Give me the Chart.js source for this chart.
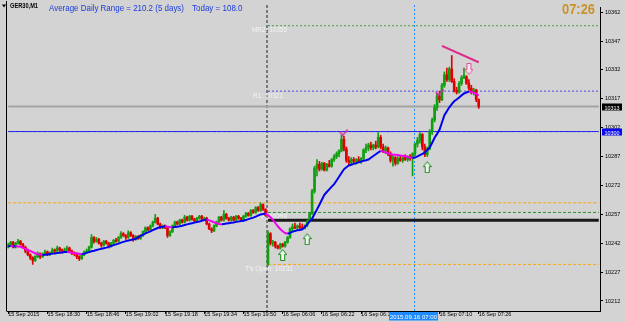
<!DOCTYPE html>
<html>
<head>
<meta charset="utf-8">
<title>GER30,M1</title>
<script src="https://cdn.jsdelivr.net/npm/chart.js@4.4.1/dist/chart.umd.min.js"></script>
<style>
  html, body { margin: 0; padding: 0; background: #d3d3d3; overflow: hidden; }
  canvas { display: block; }
</style>
</head>
<body>
<canvas id="chart" width="625" height="322"></canvas>
<script>
// GER30 M1 candles, 15 Sep 18:14 - 19:59 and 16 Sep 06:00 - 07:26

// OHLC per minute bar (index 0..105 = 15 Sep, 106..192 = 16 Sep)
const opens = [
  10240,10241,10242.5,10240,10242,10243,10241.5,10240,10238,10236,
  10234.5,10233,10235,10236.5,10235,10236.5,10237.5,10236.5,10237,10238.5,
  10238,10239.5,10238.5,10238,10238.5,10239.5,10238,10237,10236.5,10235,
  10234,10236,10237.5,10238,10240,10245,10243,10244,10242,10241,
  10243,10242,10240.5,10242,10243.5,10243,10245,10247,10246,10245,
  10247.5,10246,10244,10245.5,10244.5,10246,10248,10250,10249,10251,
  10253,10255,10252,10250,10251,10250,10246,10248,10251,10253,
  10252,10254,10253,10255.5,10254,10256,10254.5,10253.5,10255,10256,
  10254.5,10255,10252,10249.5,10248.5,10251,10253,10255.5,10254,10257,
  10255,10254,10255.5,10254,10256,10255,10254,10256,10257.5,10256.5,
  10259,10258,10260.5,10259,10262,10259.5,
  10231,10247,10242,10242.5,10240.5,10239.5,10241.5,10240.5,10242.5,10245,
  10249.5,10250.5,10250,10251,10250,10249.5,10251,10253.5,10257.5,10269,
  10281,10283,10280.5,10283.5,10280,10283,10282,10285.5,10287,10288.5,
  10290,10296,10291,10285,10284,10285.5,10284.5,10285.5,10284.5,10286,
  10290.5,10291.5,10293,10291.5,10293,10292,10297,10292,10290,10291.5,
  10288.5,10285,10286.5,10283.5,10286,10285,10286.5,10285.5,10287,10286,
  10288.5,10293.5,10295.5,10298.5,10292,10288,10291,10300,10306,10312.5,
  10318.5,10316.5,10324,10329.5,10327,10332.5,10326,10321.5,10320.5,10325,
  10328,10328.5,10325,10322.5,10320.5,10321.5,10316.5
];
const highs = [
  10242,10243,10243,10242.5,10244,10243.5,10242,10240.5,10239,10236.5,
  10235,10235.5,10237.5,10237,10237,10238.5,10238,10237.5,10239.5,10239,
  10240.5,10240,10239,10239.5,10240.5,10240,10238.5,10237.5,10237,10235.5,
  10236.5,10238,10239,10240.5,10246.5,10245.5,10245,10244.5,10242.5,10243.5,
  10243.5,10242.5,10242.5,10244,10244.5,10245.5,10248,10247.5,10246.5,10248.5,
  10248,10246.5,10246,10246,10246.5,10248.5,10250.5,10250.5,10251.5,10253.5,
  10257,10255.5,10252.5,10251.5,10251.5,10250.5,10248.5,10251.5,10253.5,10253.5,
  10254.5,10254.5,10256.5,10256,10256.5,10256.5,10255,10255.5,10256.5,10256.5,
  10255.5,10255.5,10252.5,10250,10251.5,10253.5,10256,10256,10259,10257.5,
  10255.5,10256,10256,10256.5,10256.5,10255.5,10256.5,10258,10258,10259.5,
  10259.5,10261,10261,10263,10262.5,10260,
  10248.5,10247.5,10243.5,10243,10241,10242,10242,10243,10245.5,10250,
  10252,10252.5,10251.5,10252.5,10252,10251.5,10254,10258,10270,10282,
  10285.5,10284.5,10284,10284,10283.5,10285,10286,10288,10289.5,10290.5,
  10298,10297.5,10292,10287,10286.5,10286.5,10286,10287,10286.5,10291,
  10293.5,10294,10294.5,10293.5,10295,10299.5,10298,10293.5,10292.5,10292,
  10289.5,10287.5,10287,10287,10287.5,10287,10288,10287.5,10288,10289,
  10294,10297,10299.5,10299,10293.5,10292,10301,10307,10314,10320,
  10321,10325,10331,10333,10333.5,10339.5,10327.5,10323,10326,10329,
  10333,10329,10327,10324,10322.5,10322,10317
];
const lows = [
  10239.5,10240.5,10239.5,10239.5,10241.5,10241,10239.5,10237,10235.5,10233.5,
  10231,10232.5,10234.5,10234,10234.5,10236,10235.5,10235.5,10236.5,10237,
  10237.5,10237.5,10237,10237.5,10238,10237.5,10236,10235.5,10234,10233,
  10233.5,10235.5,10237,10237.5,10239.5,10242,10242.5,10241.5,10240,10240.5,
  10241.5,10239.5,10240,10241.5,10242.5,10242.5,10244.5,10245.5,10244,10244.5,
  10245.5,10243,10243.5,10244,10244,10245.5,10247.5,10248.5,10248.5,10250.5,
  10252.5,10251.5,10249.5,10249.5,10249.5,10245,10245.5,10247.5,10250.5,10251.5,
  10251.5,10252.5,10252.5,10253.5,10253.5,10254,10253,10253,10254.5,10254,
  10254,10251.5,10249,10247.5,10248,10250.5,10252.5,10253.5,10253.5,10254.5,
  10253.5,10253.5,10253.5,10253.5,10254.5,10253.5,10253.5,10255.5,10256,10256,
  10257.5,10257.5,10258.5,10258.5,10259,10256,
  10230.5,10241,10240.5,10239.5,10239,10239,10240,10240,10242,10244.5,
  10248.5,10249.5,10249,10249.5,10249,10249.5,10250.5,10253,10257,10268,
  10277,10279.5,10280,10279.5,10279.5,10281.5,10281.5,10284.5,10286,10287,
  10289.5,10290,10284,10282.5,10283,10283.5,10283,10284,10283.5,10285.5,
  10289,10290,10290.5,10290.5,10291,10291.5,10291,10289,10288.5,10287.5,
  10284,10282,10282.5,10283,10284.5,10284,10285,10284.5,10285,10277,
  10287.5,10292,10294,10290.5,10287,10287,10290.5,10298.5,10305,10311,
  10315,10316,10323,10326,10326,10325.5,10320.5,10319.5,10320,10324,
  10327.5,10324.5,10321.5,10319.5,10319,10315.5,10312
];
const closes = [
  10241,10242.5,10240,10242,10243,10241.5,10240,10238,10236,10234.5,
  10233,10235,10236.5,10235,10236.5,10237.5,10236.5,10237,10238.5,10238,
  10239.5,10238.5,10238,10238.5,10239.5,10238,10237,10236.5,10235,10234,
  10236,10237.5,10238,10240,10245,10243,10244,10242,10241,10243,
  10242,10240.5,10242,10243.5,10243,10245,10247,10246,10245,10247.5,
  10246,10244,10245.5,10244.5,10246,10248,10250,10249,10251,10253,
  10255,10252,10250,10251,10250,10246,10248,10251,10253,10252,
  10254,10253,10255.5,10254,10256,10254.5,10253.5,10255,10256,10254.5,
  10255,10252,10249.5,10248.5,10251,10253,10255.5,10254,10257,10255,
  10254,10255.5,10254,10256,10255,10254,10256,10257.5,10256.5,10259,
  10258,10260.5,10259,10262,10259.5,10256.5,
  10247,10242,10242.5,10240.5,10239.5,10241.5,10240.5,10242.5,10245,10249.5,
  10250.5,10250,10251,10250,10249.5,10251,10253.5,10257.5,10269,10281,
  10283,10280.5,10283.5,10280,10283,10282,10285.5,10287,10288.5,10290,
  10296,10291,10285,10284,10285.5,10284.5,10285.5,10284.5,10286,10290.5,
  10291.5,10293,10291.5,10293,10292,10297,10292,10290,10291.5,10288.5,
  10285,10286.5,10283.5,10286,10285,10286.5,10285.5,10287,10286,10288.5,
  10293.5,10295.5,10298.5,10292,10288,10291,10300,10306,10312.5,10318.5,
  10316.5,10324,10329.5,10327,10332.5,10326,10321.5,10320.5,10325,10328,
  10329,10325,10322.5,10320.5,10321.5,10316.5,10313
];
// moving average
const ma = [
  10240.5,10240.5,10240.4,10240.4,10240.3,10240.2,10239.6,10239.1,10238.5,10238.0,
  10237.4,10236.8,10236.3,10236.1,10235.9,10236.0,10236.2,10236.4,10236.6,10236.7,
  10236.9,10237.0,10237.2,10237.4,10237.5,10237.3,10237.1,10236.9,10236.7,10236.5,
  10236.3,10236.6,10237.0,10237.4,10237.8,10238.1,10238.5,10238.8,10239.1,10239.4,
  10239.7,10240.1,10240.6,10241.0,10241.4,10241.8,10242.3,10242.7,10243.1,10243.4,
  10243.7,10244.0,10244.3,10245.0,10245.8,10246.5,10247.1,10247.6,10248.2,10248.8,
  10249.4,10249.9,10250.3,10250.6,10250.8,10250.6,10250.4,10250.3,10250.4,10250.6,
  10250.8,10251.1,10251.5,10251.8,10252.1,10252.4,10252.7,10253.0,10253.3,10253.7,
  10254.0,10254.4,10253.9,10253.4,10252.9,10252.4,10252.0,10251.8,10252.0,10252.2,
  10252.4,10252.6,10252.8,10253.1,10253.3,10253.5,10253.7,10254.1,10254.5,10254.9,
  10255.3,10255.8,10256.4,10256.9,10257.2,10257.5,10256.6,10255.5,10254.2,10252.5,
  10250.8,10249.4,10248.2,10247.3,10246.9,10247.4,10248.0,10248.4,10248.7,10248.9,
  10249.2,10250.3,10251.8,10253.3,10254.8,10257.2,10259.6,10262.0,10264.6,10267.1,
  10268.6,10270.0,10271.4,10272.7,10274.6,10276.5,10278.5,10280.4,10281.5,10282.4,
  10282.8,10283.2,10283.6,10284.0,10284.4,10284.8,10285.1,10285.5,10286.4,10287.3,
  10288.2,10289.1,10290.0,10289.6,10289.2,10288.8,10288.4,10288.0,10287.9,10287.8,
  10287.6,10287.5,10287.2,10286.8,10286.5,10286.4,10286.5,10287.1,10287.8,10288.4,
  10289.1,10290.4,10291.7,10294.2,10296.8,10298.8,10300.9,10304.7,10308.5,10310.6,
  10312.6,10314.2,10315.7,10316.7,10317.7,10318.8,10319.8,10320.3,10320.8,10320.6,
  10320.3,10319.5,10318.7
];

// horizontal levels and the bar index they start from
const levels    = [10355, 10321, 10313, 10300, 10263, 10258, 10254, 10231];
const levelFrom = [106,   106,   0,     0,     0,     106,   106,   106];
const levelNames = ['MR2', 'R1', '', '', '', 'PP', '', "T's Open"];

// signals
const upIdx = [112, 122, 171];
const upVal = [10235.9, 10244.1, 10281.5];
const downIdx = [188];
const downVal = [10332.5];
const checkIdx = [137, 176];
const checkVal = [10299.5, 10320.2];
const trendIdx = [177, 192];
const trendVal = [10344.5, 10336];

// axes
const tickIdx = [0, 16, 32, 48, 64, 80, 96, 112, 128, 144, 160, 176, 192];
const tickText = ['15 Sep 2015', '15 Sep 18:30', '15 Sep 18:46', '15 Sep 19:02', '15 Sep 19:18',
  '15 Sep 19:34', '15 Sep 19:50', '16 Sep 06:06', '16 Sep 06:22', '16 Sep 06:38',
  '16 Sep 06:54', '16 Sep 07:10', '16 Sep 07:26'];
const yTicks = [10212, 10227, 10242, 10257, 10272, 10287, 10302, 10317, 10332, 10347, 10362];
const yMin = 10206.8, yMax = 10364.7;
const dayStart = 106;
const crossIdx = 166;
const crossText = '2015.09.16 07:00';
const clockText = '07:26';
const adrText = 'Average Daily Range = 210.2 (5 days)';
const todayText = 'Today = 108.0';
const symbolText = 'GER30,M1';

// one category per minute, empty room on the right (chart shift)
const N = 242;
const labels = [];
for (let i = 0; i < N; i++) {
  const m = i < dayStart ? 18 * 60 + 14 + i : 6 * 60 + (i - dayStart);
  const hh = String(Math.floor(m / 60)).padStart(2, '0'), mm = String(m % 60).padStart(2, '0');
  labels.push((i < dayStart ? '15 Sep ' : '16 Sep ') + hh + ':' + mm);
}

// font for axis labels (narrow if installed)
const probe = document.createElement('canvas').getContext('2d');
probe.font = '20px "Liberation Sans Narrow", monospace';
const wN = probe.measureText('15 Sep 18:30').width;
probe.font = '20px monospace';
const hasNarrow = Math.abs(probe.measureText('15 Sep 18:30').width - wN) > 0.5;
const axisFont = hasNarrow ? { family: '"Liberation Sans Narrow"', size: 6.6 } : { family: '"Liberation Sans"', size: 5.5 };

function sparse(idx, vals) {
  return labels.map((_, i) => { const k = idx.indexOf(i); return k >= 0 ? vals[k] : null; });
}

function makeArrow(up, stroke, fill) {
  const c = document.createElement('canvas');
  c.width = 9; c.height = 12;
  const g = c.getContext('2d');
  g.beginPath();
  if (up) {
    g.moveTo(4.5, 0.5); g.lineTo(8.5, 5.5); g.lineTo(6.5, 5.5); g.lineTo(6.5, 11.5);
    g.lineTo(2.5, 11.5); g.lineTo(2.5, 5.5); g.lineTo(0.5, 5.5);
  } else {
    g.moveTo(4.5, 11.5); g.lineTo(8.5, 6.5); g.lineTo(6.5, 6.5); g.lineTo(6.5, 0.5);
    g.lineTo(2.5, 0.5); g.lineTo(2.5, 6.5); g.lineTo(0.5, 6.5);
  }
  g.closePath();
  g.fillStyle = fill; g.fill();
  g.strokeStyle = stroke; g.lineWidth = 1; g.stroke();
  return c;
}
function makeCheck(color) {
  const c = document.createElement('canvas');
  c.width = 9; c.height = 8;
  const g = c.getContext('2d');
  g.beginPath();
  g.moveTo(0.8, 3.5); g.lineTo(3.2, 7); g.lineTo(8.5, 0.8);
  g.strokeStyle = color; g.lineWidth = 1.4; g.stroke();
  return c;
}

function fitText(c, text, x, base, w, font, color) {
  c.save();
  c.font = font;
  const s = w / c.measureText(text).width;
  c.translate(x, base);
  c.scale(s, 1);
  c.fillStyle = color;
  c.textAlign = 'left';
  c.textBaseline = 'alphabetic';
  c.fillText(text, 0, 0);
  c.restore();
}

// styles
const levelStyle = [
  { color: '#3f9f3f', width: 1, dash: [2, 2] },
  { color: '#4646e6', width: 1, dash: [2, 2] },
  { color: '#a4a4a4', width: 2, dash: [] },
  { color: '#1414f0', width: 1, dash: [] },
  { color: '#ffa500', width: 1, dash: [3, 2] },
  { color: '#228b22', width: 1, dash: [3, 2] },
  { color: '#1a1a1a', width: 3, dash: [] },
  { color: '#ffa500', width: 1, dash: [3, 2] }
];
const levelLabelPos = { 'MR2': [252, 35], 'R1': [253, 30], 'PP': [257, 30], "T's Open": [245, 48] };
const upColor = '#0f9f0f', dnColor = '#e10000';
const candleColor = closes.map((c, i) => c >= opens[i] ? upColor : dnColor);

const mt4 = {
  id: 'mt4',
  beforeDraw(chart) {
    const c = chart.ctx;
    c.save();
    c.fillStyle = '#d3d3d3';
    c.fillRect(0, 0, chart.width, chart.height);
    c.restore();
  },
  beforeDatasetsDraw(chart) {
    const c = chart.ctx, xs = chart.scales.x, ys = chart.scales.y, a = chart.chartArea;
    const step = xs.getPixelForValue(1) - xs.getPixelForValue(0);
    c.save();
    //日付の区切り線
    const xd = Math.round(xs.getPixelForValue(dayStart) - step / 2);
    c.strokeStyle = '#7a7a7a'; c.lineWidth = 2; c.setLineDash([3, 2]);
    c.beginPath(); c.moveTo(xd, a.top - 2); c.lineTo(xd, a.bottom); c.stroke();
    //クロスヘア
    const xc = Math.round(xs.getPixelForValue(crossIdx)) - 0.5;
    c.strokeStyle = '#2b8cff'; c.lineWidth = 1; c.setLineDash([2, 2]);
    c.beginPath(); c.moveTo(xc, a.top - 2); c.lineTo(xc, a.bottom); c.stroke();
    c.setLineDash([]);
    // level labels
    levels.forEach((v, k) => {
      const name = levelNames[k];
      if (!name) return;
      const p = levelLabelPos[name];
      fitText(c, name + ': ' + v, p[0], ys.getPixelForValue(v) + 6.7, p[1], '7px "Liberation Sans"', '#f4f4f4');
    });
    c.restore();
  },
  afterDraw(chart) {
    const c = chart.ctx, xs = chart.scales.x, ys = chart.scales.y, a = chart.chartArea;
    c.save();
    // left frame
    c.strokeStyle = '#000'; c.lineWidth = 1;
    c.beginPath(); c.moveTo(a.left - 0.5, 1); c.lineTo(a.left - 0.5, a.bottom + 0.5); c.stroke();
    // header
    c.fillStyle = '#000';
    c.beginPath(); c.moveTo(2, 4.5); c.lineTo(6, 4.5); c.lineTo(4, 7.5); c.closePath(); c.fill();
    fitText(c, symbolText, 10, 8.4, 28, 'bold 7px "Liberation Sans"', '#000');
    fitText(c, adrText, 49, 10.7, 135, '9px "Liberation Sans"', '#1b3bdc');
    fitText(c, todayText, 192, 10.7, 50.5, '9px "Liberation Sans"', '#1b3bdc');
    fitText(c, clockText, 562, 14, 33, 'bold 14px "Liberation Sans"', '#c9922c');
    // price boxes on the axis
    const fnt = axisFont.size + 'px ' + axisFont.family;
    [[levels[2], '#000000'], [levels[3], '#0a0af0']].forEach(([v, col]) => {
      const y = Math.round(ys.getPixelForValue(v));
      c.fillStyle = col;
      c.fillRect(602, y - 3.5, 20, 7);
      fitText(c, String(v), 604.5, y + 2.5, 15, fnt, '#fff');
    });
    // crosshair time label
    const xc = Math.round(xs.getPixelForValue(crossIdx));
    c.fillStyle = '#1f8bff';
    c.fillRect(xc - 26, 312, 49, 8.5);
    fitText(c, crossText, xc - 25, 318.5, 47, fnt, '#fff');
    c.restore();
  }
};

const datasets = levels.map((v, k) => ({
  type: 'line',
  data: labels.map((_, i) => i >= levelFrom[k] ? v : null),
  borderColor: levelStyle[k].color,
  borderWidth: levelStyle[k].width,
  borderDash: levelStyle[k].dash,
  pointRadius: 0,
  order: 10
}));

datasets.push(
  //ヒゲ
  { type: 'bar', data: lows.map((l, i) => [l, highs[i]]), backgroundColor: candleColor,
    barThickness: 1, grouped: false, order: 6 },
  //実体
  { type: 'bar', data: opens.map((o, i) => [o, closes[i]]), backgroundColor: candleColor,
    barThickness: 2, grouped: false, minBarLength: 1, order: 5 },
  // MA (blue up, magenta down)
  { type: 'line', data: ma, borderColor: '#0000f0', borderWidth: 2, pointRadius: 0, order: 3,
    segment: { borderColor: s => s.p1.parsed.y < s.p0.parsed.y ? '#f000f0' : '#0000f0' } },
  { type: 'line', data: sparse(trendIdx, trendVal), spanGaps: true, borderColor: '#e0288c',
    borderWidth: 2, pointRadius: 0, order: 2 },
  { type: 'line', data: sparse(upIdx, upVal), showLine: false, pointRadius: 6,
    pointStyle: makeArrow(true, '#178a17', '#eef4ee'), order: 1 },
  { type: 'line', data: sparse(downIdx, downVal), showLine: false, pointRadius: 6,
    pointStyle: makeArrow(false, '#e0509a', '#f6e2ec'), order: 1 },
  { type: 'line', data: sparse(checkIdx, checkVal), showLine: false, pointRadius: 5,
    pointStyle: makeCheck('#d0289a'), order: 1 }
);

new Chart(document.getElementById('chart'), {
  type: 'bar',
  data: { labels: labels, datasets: datasets },
  options: {
    responsive: false,
    devicePixelRatio: 1,
    animation: false,
    events: [],
    layout: { padding: { left: 2, top: 2, right: 0, bottom: 0 } },
    plugins: { legend: { display: false }, tooltip: { enabled: false } },
    scales: {
      x: {
        type: 'category',
        offset: true,
        grid: { display: true, drawOnChartArea: false, drawTicks: true, tickLength: 3, tickColor: '#000', offset: false },
        border: { display: true, color: '#000', width: 1 },
        ticks: {
          autoSkip: false, maxRotation: 0, minRotation: 0, align: 'start', padding: -2.5,
          color: '#000', font: axisFont,
          callback: v => { const k = tickIdx.indexOf(v); return k >= 0 ? tickText[k] : ''; }
        },
        afterBuildTicks: s => { s.ticks = tickIdx.map(i => ({ value: i })); },
        afterFit: s => { s.height = 11; }
      },
      y: {
        position: 'right',
        min: yMin, max: yMax,
        grid: { display: true, drawOnChartArea: false, drawTicks: true, tickLength: 3, tickColor: '#000' },
        border: { display: true, color: '#000', width: 1 },
        ticks: { padding: 2, color: '#000', font: axisFont, callback: v => String(v) },
        afterBuildTicks: s => { s.ticks = yTicks.map(v => ({ value: v })); },
        afterFit: s => { s.width = 25; }
      }
    }
  },
  plugins: [mt4]
});
</script>
</body>
</html>
